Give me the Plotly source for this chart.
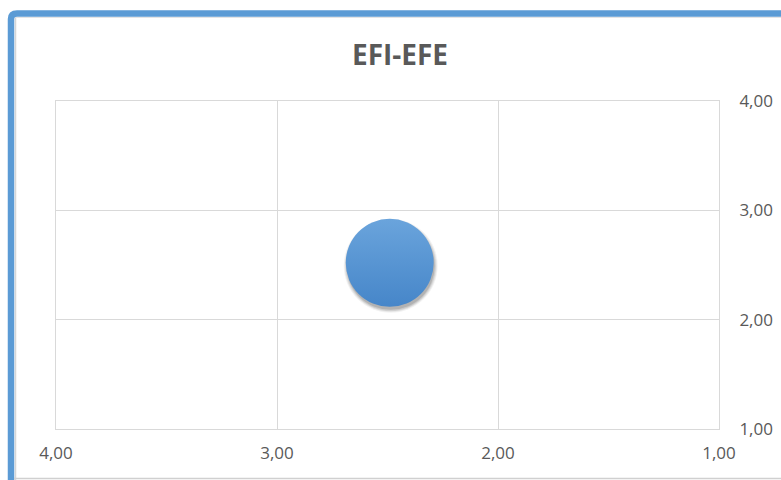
import plotly.graph_objects as go

# data
x_vals = [2.49]
y_vals = [2.52]
bubble_px = [88]
x_ticks = [4, 3, 2, 1]
y_ticks = [1, 2, 3, 4]
title_text = "EFI-EFE"

W, H = 781, 480
L, R, T, B = 56, 62, 101, 51
pw, ph = W - L - R, H - T - B
FONT = "Open Sans, Noto Sans, sans-serif"

def px_x(p):
    return (p - L) / pw

def px_y(p):
    return (H - B - p) / ph

fig = go.Figure()

# soft shadow (layers offset a few pixels from the data point)
dx_units = 3 / pw
dy_units = 3 / ph
for extra, alpha in [(8, 0.05), (6, 0.07), (4, 0.09), (2, 0.12)]:
    fig.add_trace(go.Scatter(
        x=[v - 1 * dx_units for v in x_vals],
        y=[v - 3 * dy_units for v in y_vals],
        mode="markers",
        marker=dict(size=[s + extra - 2 for s in bubble_px], color=f"rgba(0,0,0,{alpha})",
                    opacity=1, line=dict(width=0)),
        hoverinfo="skip", showlegend=False))

fig.add_trace(go.Scatter(
    x=x_vals, y=y_vals, mode="markers",
    marker=dict(size=bubble_px, color="#6aa4dc", opacity=1,
                gradient=dict(type="vertical", color="#4686c9"),
                line=dict(width=0)),
    showlegend=False))

shapes = [
    dict(type="line", xref="paper", yref="paper",
         x0=px_x(15.5), x1=px_x(15.5), y0=px_y(490), y1=px_y(17),
         line=dict(color="#d6d6d6", width=1.5)),
    dict(type="line", xref="paper", yref="paper",
         x0=px_x(15), x1=px_x(800), y0=px_y(17.5), y1=px_y(17.5),
         line=dict(color="#e4e4e4", width=1)),
    # outer chart frame (blue)
    dict(type="path", xref="paper", yref="paper",
         path=f"M {px_x(11)},{px_y(490)} L {px_x(11)},{px_y(19)} Q {px_x(11)},{px_y(13.5)} {px_x(17)},{px_y(13.5)} L {px_x(800)},{px_y(13.5)}",
         line=dict(color="#5b9bd5", width=6.5), layer="above"),
    dict(type="line", xref="paper", yref="paper",
         x0=px_x(14), x1=px_x(800), y0=px_y(478.5), y1=px_y(478.5),
         line=dict(color="#d0d0d0", width=1.5)),
]

fig.update_layout(
    width=W, height=H,
    margin=dict(l=L, r=R, t=T, b=B, autoexpand=False),
    paper_bgcolor="white", plot_bgcolor="white",
    separators=",.",
    shapes=shapes,
    title=dict(text=f"<b>{title_text}</b>", x=px_x(400), xref="paper", xanchor="center",
               y=1 - 55 / H, yanchor="middle",
               font=dict(family=FONT, size=28, color="#595959")),
    xaxis=dict(range=[4, 1], tickvals=x_ticks, tickformat=".2f", automargin=False,
               showgrid=True, gridcolor="#d9d9d9", gridwidth=1,
               showline=True, linecolor="#d9d9d9", linewidth=1, mirror=True,
               zeroline=False, ticks="", ticklabelstandoff=9,
               tickfont=dict(family=FONT, size=17, color="#595959")),
    yaxis=dict(range=[1, 4], tickvals=y_ticks, tickformat=".2f", side="right", automargin=False,
               showgrid=True, gridcolor="#d9d9d9", gridwidth=1,
               showline=True, linecolor="#d9d9d9", linewidth=1, mirror=True,
               zeroline=False, ticks="", ticklabelstandoff=16,
               tickfont=dict(family=FONT, size=17, color="#595959")),
)

fig.write_html("out.html")
